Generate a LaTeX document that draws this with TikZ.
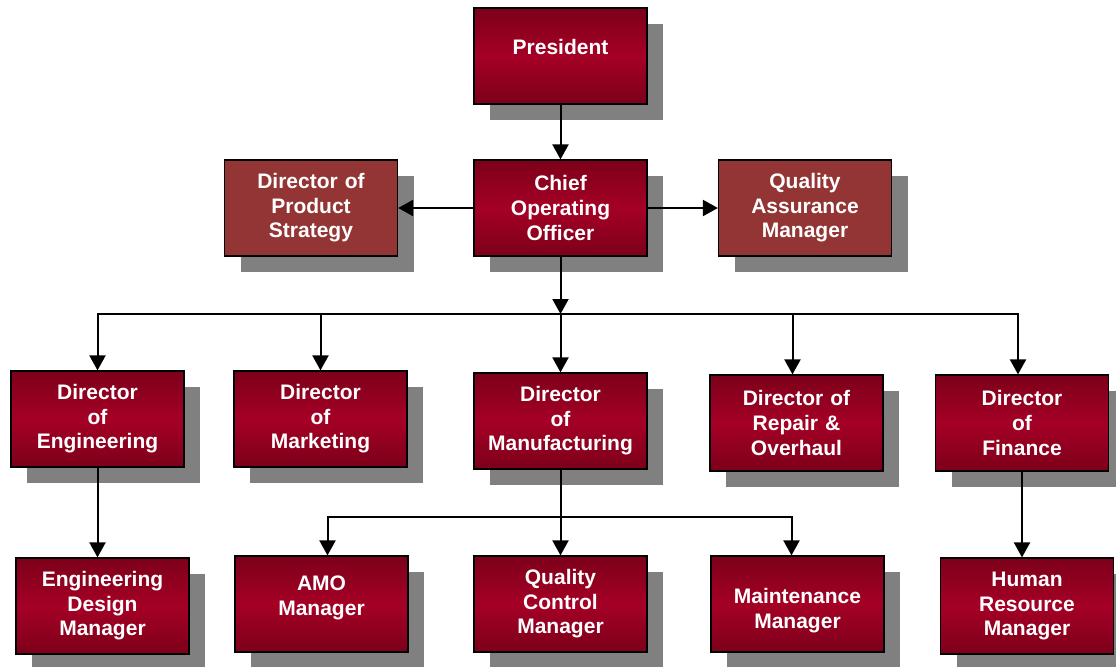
\documentclass[tikz,border=0pt]{standalone}
\usepackage{fontspec}
\setmainfont{Liberation Sans}
\usetikzlibrary{positioning}
\usetikzlibrary{shadows, arrows.meta}

\definecolor{redtop}{HTML}{7C0019}
\definecolor{redmid}{HTML}{A50026}
\definecolor{redflat}{HTML}{943535}

\tikzset{
  box/.style={rectangle,draw=black,line width=0.6pt,minimum width=86.5pt,minimum height=48pt,
    inner sep=1pt,text width=84pt,align=center,text=white,font=\fontsize{10.5}{12.3}\selectfont\bfseries,
    drop shadow={shadow xshift=8pt,shadow yshift=-8pt,fill=black!50,opacity=1}},
  redbox/.style={box,top color=redtop,bottom color=redtop,middle color=redmid},
  flatbox/.style={box,fill=redflat},
  arr/.style={line width=1pt,-{Triangle[width=8pt,length=7.5pt]}}
}

\begin{document}
\begin{tikzpicture}[x=0.5pt,y=-0.5pt]
\useasboundingbox (0,0) rectangle (1116,666);

\node[redbox] (pres) at (560.5,56) {President\\[-3pt]\mbox{}};
\node[redbox] (coo) at (560.5,208) {Chief\\Operating\\Officer};
\node[flatbox] (dps) at (311,208) {Director of\\Product\\Strategy};
\node[flatbox] (qam) at (805,208) {Quality\\Assurance\\Manager};

\node[redbox] (deng) at (97.5,419) {Director\\of\\Engineering};
\node[redbox] (dmkt) at (320.5,419) {Director\\of\\Marketing};
\node[redbox] (dmfg) at (560.5,421) {Director\\of\\Manufacturing};
\node[redbox] (drep) at (796.5,423) {Director of\\Repair \&\\Overhaul};
\node[redbox] (dfin) at (1022,423) {Director\\of\\Finance};

\node[redbox] (edm) at (102.5,606) {Engineering\\Design\\Manager};
\node[redbox] (amo) at (321.5,604) {AMO\\Manager\\[-4pt]\mbox{}};
\node[redbox] (qcm) at (560.5,604) {Quality\\Control\\Manager};
\node[redbox] (mnt) at (797.5,604) {\mbox{}\\[2pt]Maintenance\\Manager};
\node[redbox] (hrm) at (1027,606) {Human\\Resource\\Manager};

\coordinate (bus) at (560.5,314);
\coordinate (mbus) at (560.5,517);

\draw[arr] (pres) -- (coo);
\draw[arr] (coo) -- (dps);
\draw[arr] (coo) -- (qam);
\draw[arr] (coo) -- (bus);
\draw[arr] (bus) -| (deng.north);
\draw[arr] (bus) -| (dmkt.north);
\draw[arr] (bus) -- (dmfg.north);
\draw[arr] (bus) -| ([xshift=-2pt]drep.north);
\draw[arr] (bus) -| ([xshift=-2pt]dfin.north);

\draw[arr] (deng.south) -- (deng.south |- edm.north);
\draw[arr] (dfin.south) -- (dfin.south |- hrm.north);

\draw[arr] (dmfg.south) -- (qcm.north);
\draw[arr] (mbus) -| ([xshift=3pt]amo.north);
\draw[arr] (mbus) -| ([xshift=-3pt]mnt.north);

\end{tikzpicture}
\end{document}
